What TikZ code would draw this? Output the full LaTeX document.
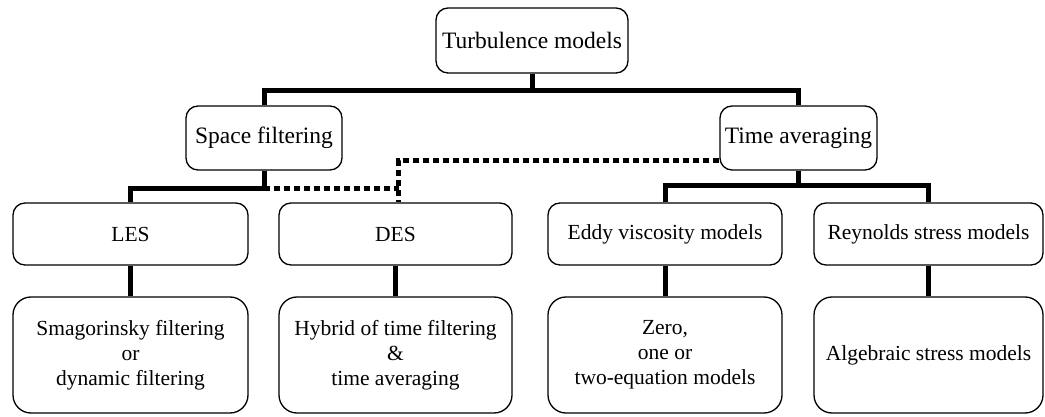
\documentclass[tikz,border=0pt]{standalone}
\usepackage{fontspec}
\setmainfont{Liberation Serif}
\usetikzlibrary{calc}

\begin{document}
\begin{tikzpicture}[x=1pt,y=-1pt]
      \tikzset{model box/.style={draw,
          line width=1.3pt,
          rounded corners=12pt,
          align=center,
          inner sep=2pt,
          minimum height=#1,
          font=\fontsize{21.5}{25}\selectfont},
        big text/.style={font=\fontsize{23.5}{27}\selectfont},
        link/.style={line width=5pt},
        hybrid link/.style={line width=5.5pt, dash pattern=on 6pt off 4pt}
      }
      \useasboundingbox (0,0) rectangle (1045,417);
      \node [model box=65pt, big text, minimum width=192pt] (turb) at (532,40.5) {Turbulence models};
      \node [model box=64pt, big text, minimum width=156pt] (space) at (264,138) {Space filtering};
      \node [model box=64pt, big text, minimum width=157pt] (time) at (798.5,138) {Time averaging};
      \node [model box=62pt, minimum width=235pt] (les) at (130.5,234) {LES};
      \node [model box=62pt, minimum width=233pt] (des) at (395.5,234) {DES};
      \node [model box=62pt, minimum width=234pt] (eddy) at (665,234) {Eddy viscosity models};
      \node [model box=62pt, minimum width=229pt] (rey) at (928.5,234) {Reynolds stress models};
      \node [model box=116pt, minimum width=235pt, rounded corners=18pt] (lesb) at (130.5,355)
        {Smagorinsky filtering\\or\\dynamic filtering};
      \node [model box=116pt, minimum width=233pt, rounded corners=18pt] (desb) at (395.5,355)
        {Hybrid of time filtering\\\&\\time averaging};
      \node [model box=116pt, minimum width=234pt, rounded corners=18pt] (eddyb) at (665,355)
        {Zero,\\one or\\two-equation models};
      \node [model box=116pt, minimum width=229pt, rounded corners=18pt] (reyb) at (928.5,355)
        {Algebraic stress models};
      % tree links
      \draw [link] (turb.south) -- ++(0,17) coordinate (turbjoin);
      \draw [link] (turbjoin) -| (space.north);
      \draw [link] (turbjoin) -| (time.north);
      \draw [link] (space.south) -- ++(0,18) coordinate (spacejoin) -| (les.north);
      \draw [link] (time.south) -- ++(0,15) coordinate (timejoin) -| (eddy.north);
      \draw [link] (timejoin) -| (rey.north);
      \draw [link] (les) -- (lesb);
      \draw [link] (des) -- (desb);
      \draw [link] (eddy) -- (eddyb);
      \draw [link] (rey) -- (reyb);
      % DES takes from both sides
      \draw [hybrid link] (spacejoin) -- ($(spacejoin -| des.north)+(3,0)$);
      \draw [hybrid link] ($(time.south west)+(0,-10)$) -| ($(des.north)+(3,0)$);

    \end{tikzpicture}
\end{document}
